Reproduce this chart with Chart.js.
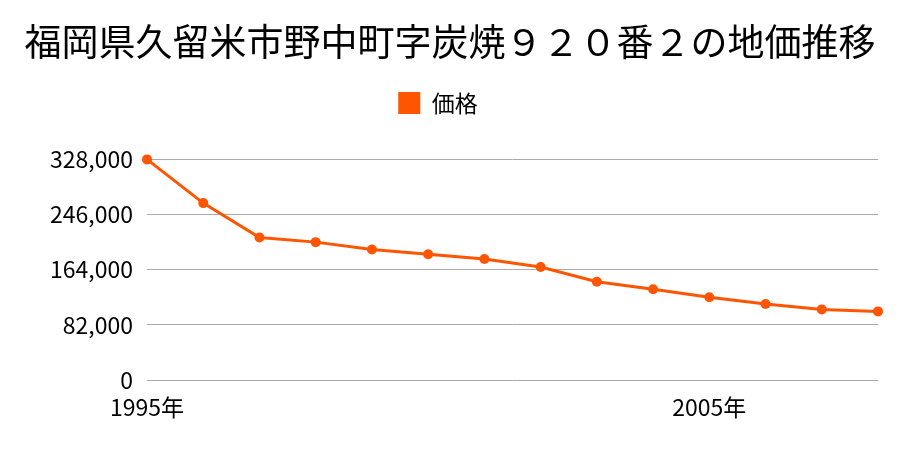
<!DOCTYPE html>
<html lang="ja">
<head>
<meta charset="utf-8">
<script src="https://cdn.jsdelivr.net/npm/chart.js@4"></script>
<style>
  html, body { margin:0; padding:0; background:#fff; }
  #wrap { width:900px; height:450px; }
</style>
</head>
<body>
<div id="wrap"><canvas id="chart" width="900" height="450"></canvas></div>
<script>
const years = ['1995','1996','1997','1998','1999','2000','2001','2002','2003','2004','2005','2006','2007','2008'];
const prices = [328000, 263000, 212000, 205000, 194000, 187000, 180000, 168000, 146000, 135000, 123000, 113000, 105000, 102000];
const yTicks = [0, 82000, 164000, 246000, 328000];
const shownYears = ['1995', '2005'];

const FONT = '"Noto Sans CJK JP", "Noto Sans", sans-serif';
const ORANGE = '#ff5500';
const fmt = n => Intl.NumberFormat('en').format(n);

// legend sits a little left of the title's centre in the original
const nudgeLegend = {
  id: 'nudgeLegend',
  afterLayout(chart) {
    chart.legend.left -= 12;
    chart.legend.right -= 12;
  }
};

new Chart(document.getElementById('chart'), {
  type: 'line',
  data: {
    labels: years.map(y => y + '年'),
    datasets: [{
      label: '価格',
      data: prices,
      borderColor: ORANGE,
      backgroundColor: ORANGE,
      borderWidth: 3,
      pointRadius: 5,
      pointHoverRadius: 5,
      pointBackgroundColor: ORANGE,
      pointBorderWidth: 0,
      tension: 0,
      clip: false
    }]
  },
  plugins: [nudgeLegend],
  options: {
    responsive: false,
    animation: false,
    layout: { padding: { left: 22, right: 22, top: 0, bottom: 0 } },
    plugins: {
      title: {
        display: true,
        text: '福岡県久留米市野中町字炭焼９２０番２の地価推移',
        color: '#000',
        font: { family: FONT, size: 37, weight: 'normal', lineHeight: 1.2 },
        padding: { top: 20, bottom: 15 }
      },
      legend: {
        labels: {
          color: '#000',
          font: { family: FONT, size: 23 },
          boxWidth: 22,
          boxHeight: 22,
          padding: 12,
          generateLabels: chart => [{
            text: '価格', fillStyle: ORANGE, strokeStyle: ORANGE, lineWidth: 0, datasetIndex: 0
          }]
        }
      },
      // empty spacer between the legend and the plot
      subtitle: {
        display: true,
        text: '',
        weight: 500,
        font: { size: 10, lineHeight: 1 },
        padding: { top: 25, bottom: 0 }
      },
      tooltip: { enabled: false }
    },
    scales: {
      x: {
        offset: false,
        grid: { display: false },
        border: { display: false },
        afterFit: s => { s.height = 70; },
        ticks: {
          autoSkip: false,
          maxRotation: 0,
          color: '#000',
          padding: 5,
          font: { family: FONT, size: 23 },
          callback: function(v, i) {
            return shownYears.includes(years[i]) ? years[i] + '年' : '';
          }
        }
      },
      y: {
        min: 0,
        max: 328000,
        afterFit: s => { s.width = 125; },
        afterBuildTicks: s => { s.ticks = yTicks.map(v => ({ value: v })); },
        grid: { color: '#aaaaaa', lineWidth: 1, drawTicks: false },
        border: { display: false },
        ticks: {
          color: '#000',
          padding: 14,
          font: { family: FONT, size: 23 },
          callback: v => fmt(v)
        }
      }
    }
  }
});
</script>
</body>
</html>
